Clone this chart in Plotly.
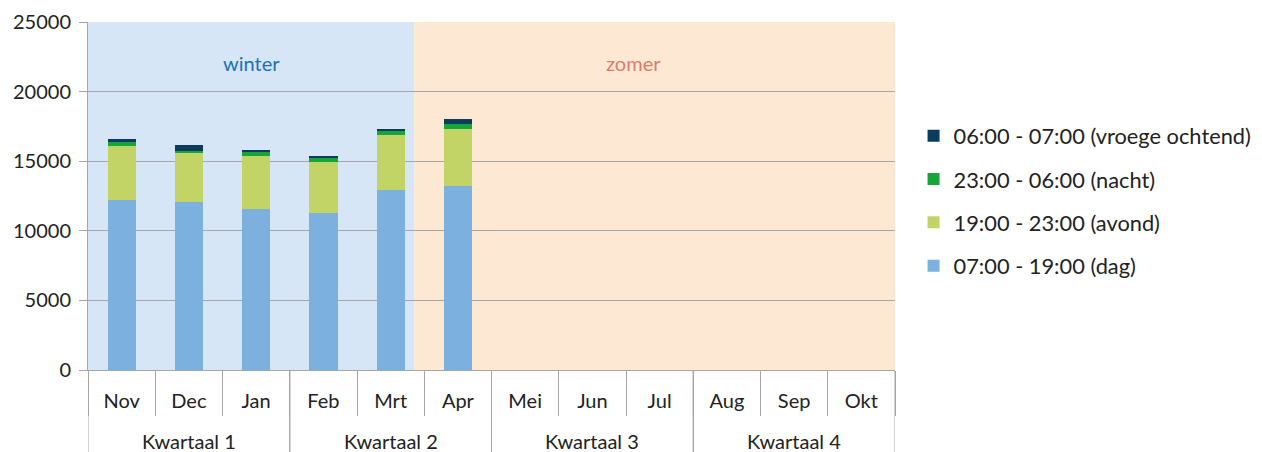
import plotly.graph_objects as go

quarters = ["Kwartaal 1"] * 3 + ["Kwartaal 2"] * 3 + ["Kwartaal 3"] * 3 + ["Kwartaal 4"] * 3
months = ["Nov", "Dec", "Jan", "Feb", "Mrt", "Apr", "Mei", "Jun", "Jul", "Aug", "Sep", "Okt"]

dag = [12200, 12050, 11550, 11300, 12950, 13200, None, None, None, None, None, None]
avond = [3900, 3550, 3800, 3650, 3900, 4100, None, None, None, None, None, None]
nacht = [300, 150, 300, 350, 300, 400, None, None, None, None, None, None]
vroege = [200, 400, 150, 100, 150, 350, None, None, None, None, None, None]

series = [
    ("07:00 - 19:00 (dag)", dag, "#7cb1df"),
    ("19:00 - 23:00 (avond)", avond, "#c3d467"),
    ("23:00 - 06:00 (nacht)", nacht, "#17a43a"),
    ("06:00 - 07:00 (vroege ochtend)", vroege, "#0b3c5b"),
]

FONT = "Lato"
FS = 20
GRAY = "#a6a6a6"
PLOT_H = 452 - 22 - 82

fig = go.Figure()
for k, (name, vals, col) in enumerate(series):
    fig.add_trace(go.Bar(
        x=months, y=vals, name=name,
        marker=dict(color=col, line=dict(width=0)),
        width=0.42, legendgroup=name, legendrank=100 - k,
    ))

# season backgrounds
fig.add_shape(type="rect", xref="x", yref="paper", x0=-0.5, x1=4.35, y0=0, y1=1,
              fillcolor="#d7e6f6", line=dict(width=0), layer="below")
fig.add_shape(type="rect", xref="x", yref="paper", x0=4.35, x1=11.5, y0=0, y1=1,
              fillcolor="#fde9d3", line=dict(width=0), layer="below")
fig.add_annotation(xref="paper", yref="paper", x=0.203, y=(370 - 63) / PLOT_H, text="winter",
                   showarrow=False, xanchor="center", yanchor="middle",
                   font=dict(family=FONT, size=FS, color="#1a72bd"))
fig.add_annotation(xref="paper", yref="paper", x=0.676, y=(370 - 63) / PLOT_H, text="zomer",
                   showarrow=False, xanchor="center", yanchor="middle",
                   font=dict(family=FONT, size=FS, color="#e07a70"))

# quarter level of the category axis
uniq = []
for q in quarters:
    if q not in uniq:
        uniq.append(q)
for q in uniq:
    idx = [i for i, v in enumerate(quarters) if v == q]
    mid = (idx[0] + idx[-1]) / 2
    fig.add_annotation(xref="x", yref="paper", x=mid, y=-71 / PLOT_H, text=q,
                       showarrow=False, xanchor="center", yanchor="middle",
                       font=dict(family=FONT, size=FS, color="#222222"))
    for b in (idx[0] - 0.5, idx[-1] + 0.5):
        fig.add_shape(type="line", xref="x", yref="paper", x0=b, x1=b,
                      y0=-82 / PLOT_H, y1=0, line=dict(color=GRAY, width=1))

fig.update_layout(
    width=1262, height=452,
    margin=dict(l=88, r=367, t=22, b=82, autoexpand=False),
    barmode="stack",
    paper_bgcolor="white", plot_bgcolor="rgba(0,0,0,0)",
    font=dict(family=FONT, size=FS, color="#222222"),
    legend=dict(traceorder="grouped", x=1.023, y=(370 - 201) / PLOT_H,
                yanchor="middle", xanchor="left",
                font=dict(family=FONT, size=21.8, color="#222222"),
                tracegroupgap=12, itemwidth=30),
    showlegend=True,
)
fig.update_yaxes(range=[0, 25000], dtick=5000, tickformat="d", showgrid=True, gridcolor=GRAY,
                 gridwidth=1, ticks="outside", ticklen=8, tickcolor=GRAY, showline=True,
                 linecolor=GRAY, zeroline=False, ticklabelstandoff=4)
fig.update_xaxes(type="category", categoryarray=months, categoryorder="array",
                 showline=True, linecolor=GRAY, ticks="outside", tickson="boundaries",
                 ticklen=45, tickcolor=GRAY, ticklabelstandoff=13, range=[-0.5, 11.5])

fig.write_html("out.html", config={"displayModeBar": False},
               post_script="document.body.style.margin='0';")
